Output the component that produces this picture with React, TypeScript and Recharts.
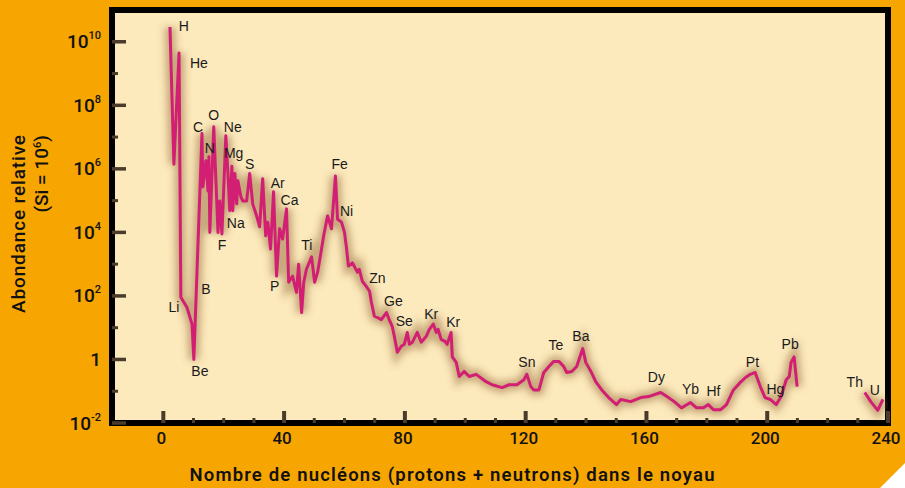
import {
  LineChart,
  Line,
  XAxis,
  YAxis,
  CartesianGrid,
  ReferenceArea,
  ReferenceDot,
} from "recharts";

// nombre de nucléons (A) / abondance relative (Si = 1e6)
const massNumber = [
  2.2, 3.5, 5.2, 5.8, 7.8, 9.5, 10.1, 12.8, 13.1, 14.1, 14.8, 15.1, 15.4, 16.7,
  18.1, 18.7, 19.4, 20.7, 21.4, 22.0, 22.7, 23.0, 23.7, 24.3, 24.7, 25.7, 26.3,
  27.6, 28.6, 29.6, 30.9, 31.9, 32.9, 33.9, 34.6, 35.5, 36.5, 37.5, 38.5, 39.5,
  40.8, 41.5, 42.8, 44.1, 44.8, 45.8, 46.5, 47.4, 49.1, 50.1, 51.1, 52.4, 53.1,
  54.4, 55.7, 57.0, 57.7, 59.0, 60.0, 60.7, 61.3, 62.6, 64.3, 64.9, 65.9, 67.2,
  68.3, 68.9, 69.9, 70.9, 72.2, 73.9, 74.8, 75.8, 76.5, 77.5, 78.8, 79.8, 80.8,
  81.5, 82.5, 84.1, 85.4, 87.1, 88.1, 89.4, 90.4, 91.0, 92.0, 93.3, 94.0, 95.3,
  95.7, 97.0, 98.0, 99.6, 101.3, 103.6, 106.9, 108.9, 112.2, 114.5, 117.1,
  119.4, 120.4, 121.7, 122.7, 124.4, 126.0, 127.7, 129.3, 131.0, 132.6, 133.6,
  135.3, 136.9, 138.9, 139.9, 141.6, 143.2, 145.2, 147.5, 150.1, 151.5, 154.8,
  158.1, 160.7, 164.7, 167.3, 169.6, 171.6, 174.6, 176.6, 178.9, 180.5, 182.2,
  184.5, 186.5, 188.8, 191.1, 192.8, 194.4, 196.0, 197.7, 199.3, 201.0, 203.0,
  204.6, 206.3, 207.3, 207.9, 208.9, 209.9, 220, 232.3, 234.3, 236.6, 238.3,
];

const abundance = [
  2.9e10, 1.4e6, 4.4e9, 91, 44, 13, 1, 1.3e7, 2.7e5, 1.8e6, 2.0e5, 2.4e6, 1.0e4,
  2.1e7, 1.0e4, 9.8e4, 8.9e3, 1.1e7, 7.1e5, 4.8e4, 1.2e6, 4.8e4, 7.1e5, 7.9e4,
  4.2e5, 1.3e5, 9.8e4, 9.8e4, 7.1e5, 7.9e4, 3.3e4, 1.5e4, 4.9e5, 7.8e3, 2.1e4,
  3.0e3, 1.9e5, 420, 1.3e4, 6.2e3, 5.5e4, 270, 420, 130, 1.0e3, 30, 270, 690,
  1.7e3, 270, 560, 3.0e3, 7.8e3, 3.3e4, 1.3e4, 6.0e5, 2.6e4, 2.1e4, 1.0e4,
  3.0e3, 870, 1.1e3, 560, 690, 290, 200, 140, 63, 23, 21, 18, 30, 18, 11, 5.4,
  1.7, 2.6, 3.0, 7.1, 3.0, 3.5, 7.1, 3.5, 5.4, 8.9, 13, 7.1, 8.9, 4.3, 3.7, 3.0,
  7.1, 1.2, 0.81, 0.29, 0.42, 0.29, 0.34, 0.2, 0.16, 0.13, 0.16, 0.16, 0.23,
  0.34, 0.14, 0.11, 0.11, 0.39, 0.6, 0.87, 0.87, 0.6, 0.39, 0.42, 0.6, 2.2,
  0.81, 0.42, 0.2, 0.11, 0.063, 0.038, 0.055, 0.047, 0.063, 0.068, 0.091, 0.063,
  0.044, 0.03, 0.044, 0.03, 0.03, 0.038, 0.026, 0.026, 0.038, 0.11, 0.19, 0.27,
  0.34, 0.39, 0.14, 0.063, 0.055, 0.038, 0.068, 0.23, 0.29, 0.81, 1.2, 0.14,
  null, 0.091, 0.047, 0.025, 0.055,
];

// étiquettes des éléments
const elementNames = [
  "H", "He", "C", "O", "Ne", "N", "Mg", "S", "Na", "F", "B", "Li", "Be", "Ar",
  "Ca", "P", "Ti", "Fe", "Ni", "Zn", "Ge", "Se", "Kr", "Kr", "Sn", "Te", "Ba",
  "Dy", "Yb", "Hf", "Pt", "Hg", "Pb", "Th", "U",
];
const elementMass = [
  6.8, 11.8, 11.5, 16.7, 23.0, 15.4, 23.3, 28.6, 24.0, 19.4, 14.1, 3.5, 12.1,
  37.9, 41.8, 36.9, 47.5, 58.4, 60.7, 70.9, 76.2, 79.8, 88.7, 96.0, 120.4,
  130.0, 138.3, 163.3, 174.6, 182.2, 195.1, 202.7, 207.6, 229.0, 235.6,
];
const elementAbundance = [
  3.1e10, 2.2e9, 2.1e7, 5.1e7, 2.1e7, 4.4e6, 3.2e6, 1.4e6, 2.0e4, 4.0e3, 160, 44,
  0.42, 3.6e5, 1.05e5, 200, 4.0e3, 1.4e6, 4.8e4, 360, 68, 16, 26, 15, 0.81, 2.8,
  5.3, 0.27, 0.12, 0.098, 0.81, 0.12, 3.0, 0.19, 0.11,
];

const xTicks = [
  0, 10, 20, 30, 40, 50, 60, 70, 80, 90, 100, 110, 120, 130, 140, 150, 160, 170,
  180, 190, 200, 210, 220, 230, 240,
];
const yTicks = [
  1e-2, 1e-1, 1, 1e1, 1e2, 1e3, 1e4, 1e5, 1e6, 1e7, 1e8, 1e9, 1e10,
];

const data = massNumber.map((a, i) => ({ a, v: abundance[i] }));

const PLOT_LEFT = 112;
const PLOT_BOTTOM = 423;
const TICK_COLOR = "#4a3b2c";

function YTick({ y, payload }: any) {
  const exp = Math.round(Math.log10(payload.value));
  const major = exp % 2 === 0;
  return (
    <g>
      <line
        x1={PLOT_LEFT}
        x2={PLOT_LEFT + (major ? 14 : 6)}
        y1={y}
        y2={y}
        stroke={TICK_COLOR}
        strokeWidth={major ? 3.5 : 3}
      />
      {major && (
        <text
          x={101}
          y={y + 6.5}
          textAnchor="end"
          fontSize={19}
          fontWeight={500}
          fill="#111"
        >
          {exp === 0 ? (
            "1"
          ) : (
            <>
              10
              <tspan dy={-9} fontSize={11}>
                {exp}
              </tspan>
            </>
          )}
        </text>
      )}
    </g>
  );
}

function XTick({ x, payload }: any) {
  const major = payload.value % 40 === 0;
  return (
    <g>
      <line
        x1={x}
        x2={x}
        y1={PLOT_BOTTOM}
        y2={PLOT_BOTTOM - (major ? 12 : 5)}
        stroke={TICK_COLOR}
        strokeWidth={major ? 4 : 3}
      />
      {major && (
        <text
          x={x - 2}
          y={443.5}
          textAnchor="middle"
          fontSize={17}
          fontWeight={500}
          fill="#111"
        >
          {payload.value}
        </text>
      )}
    </g>
  );
}

export default function App() {
  return (
    <div
      style={{
        position: "absolute",
        left: 0,
        top: 0,
        width: 905,
        height: 488,
        background: "#F6A501",
        overflow: "hidden",
        fontFamily: "Roboto, sans-serif",
      }}
    >
      <LineChart
        width={905}
        height={488}
        data={data}
        margin={{ top: 10, right: 17, left: 0, bottom: 0 }}
      >
        <defs>
          <filter id="halo" x="-20%" y="-20%" width="140%" height="140%">
            <feGaussianBlur stdDeviation="3.5" />
          </filter>
        </defs>
        <CartesianGrid horizontal={false} vertical={false} fill="#FCE9BC" />
        <XAxis
          type="number"
          dataKey="a"
          domain={[-17, 240]}
          allowDataOverflow
          ticks={xTicks}
          interval={0}
          tick={<XTick />}
          tickLine={false}
          axisLine={false}
          height={65}
        />
        <YAxis
          type="number"
          scale="log"
          domain={[1e-2, 1e11]}
          allowDataOverflow
          ticks={yTicks}
          interval={0}
          tick={<YTick />}
          tickLine={false}
          axisLine={false}
          width={112}
        />
        <Line
          dataKey="v"
          stroke="#8a5a2a"
          strokeOpacity={0.45}
          strokeWidth={11}
          dot={false}
          activeDot={false}
          filter="url(#halo)"
          isAnimationActive={false}
        />
        <Line
          dataKey="v"
          stroke="#D21F73"
          strokeWidth={3}
          strokeLinejoin="round"
          dot={false}
          activeDot={false}
          isAnimationActive={false}
        />
        {elementNames.map((name, i) => (
          <ReferenceDot
            key={name + i}
            x={elementMass[i]}
            y={elementAbundance[i]}
            r={0}
            fill="none"
            stroke="none"
            label={{
              value: name,
              position: "center",
              fill: "#1a1a1a",
              fontSize: 14,
              fontFamily: "'Liberation Sans', Arial, sans-serif",
            }}
          />
        ))}
        <ReferenceArea
          x1={-17}
          x2={240}
          y1={1e-2}
          y2={1e11}
          fill="none"
          stroke="#000"
          strokeWidth={6}
          ifOverflow="visible"
        />
      </LineChart>
      <svg
        width={905}
        height={488}
        style={{ position: "absolute", left: 0, top: 0, pointerEvents: "none" }}
      >
        <text
          x={25}
          y={135}
          transform="rotate(-90 25 135)"
          textAnchor="end"
          fontSize={19}
          fontWeight={500}
          fill="#111"
          textLength={178}
        >
          Abondance relative
        </text>
        <text
          x={48}
          y={135}
          transform="rotate(-90 48 135)"
          textAnchor="end"
          fontSize={19}
          fontWeight={500}
          fill="#111"
        >
          (Si = 10
          <tspan dy={-7} fontSize={11}>
            6
          </tspan>
          <tspan dy={7}>)</tspan>
        </text>
        <text
          x={452}
          y={481}
          textAnchor="middle"
          fontSize={18.5}
          fontWeight={600}
          fill="#111"
          textLength={525}
        >
          Nombre de nucléons (protons + neutrons) dans le noyau
        </text>
        <polygon points="880,488 905,488 905,463" fill="#fff" />
      </svg>
    </div>
  );
}
